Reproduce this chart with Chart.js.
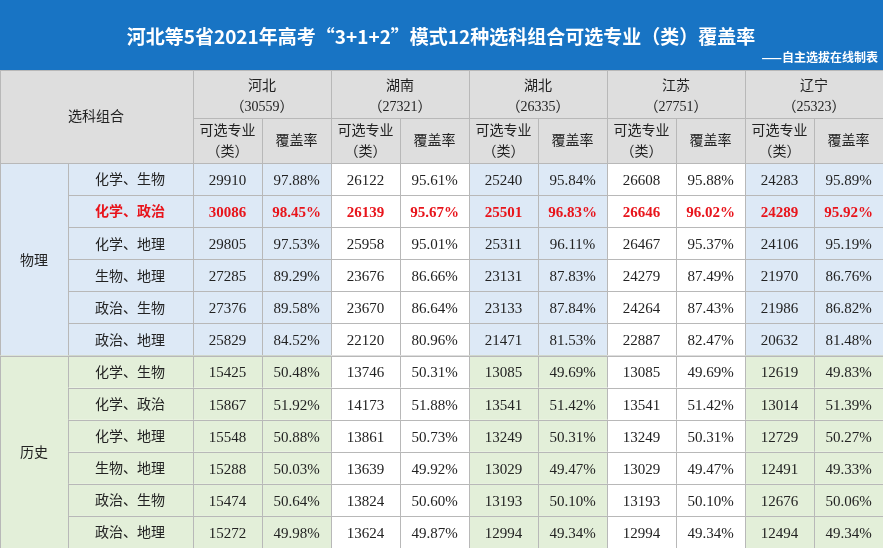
<!DOCTYPE html>
<html><head><meta charset="utf-8">
<script src="https://cdn.jsdelivr.net/npm/chart.js@4"></script>
<style>html,body{margin:0;padding:0;background:#fff}#wrap{width:883px;height:548px}</style>
</head><body><div id="wrap"><canvas id="c" width="883" height="548"></canvas></div>
<script>
const titleText = "河北等5省2021年高考“3+1+2”模式12种选科组合可选专业（类）覆盖率";
const subtitleText = "——自主选拔在线制表";
const provinces = ["河北","湖南","湖北","江苏","辽宁"];
const provinceTotals = [30559,27321,26335,27751,25323];
const groups = ["物理","历史"];
const combos = ["化学、生物","化学、政治","化学、地理","生物、地理","政治、生物","政治、地理"];
const highlightRow = 1;
const countsHebei = [29910,30086,29805,27285,27376,25829,15425,15867,15548,15288,15474,15272];
const ratesHebei = [97.88,98.45,97.53,89.29,89.58,84.52,50.48,51.92,50.88,50.03,50.64,49.98];
const countsHunan = [26122,26139,25958,23676,23670,22120,13746,14173,13861,13639,13824,13624];
const ratesHunan = [95.61,95.67,95.01,86.66,86.64,80.96,50.31,51.88,50.73,49.92,50.60,49.87];
const countsHubei = [25240,25501,25311,23131,23133,21471,13085,13541,13249,13029,13193,12994];
const ratesHubei = [95.84,96.83,96.11,87.83,87.84,81.53,49.69,51.42,50.31,49.47,50.10,49.34];
const countsJiangsu = [26608,26646,26467,24279,24264,22887,13085,13541,13249,13029,13193,12994];
const ratesJiangsu = [95.88,96.02,95.37,87.49,87.43,82.47,49.69,51.42,50.31,49.47,50.10,49.34];
const countsLiaoning = [24283,24289,24106,21970,21986,20632,12619,13014,12729,12491,12676,12494];
const ratesLiaoning = [95.89,95.92,95.19,86.76,86.82,81.48,49.83,51.39,50.27,49.33,50.06,49.34];
const counts = [countsHebei,countsHunan,countsHubei,countsJiangsu,countsLiaoning];
const rates = [ratesHebei,ratesHunan,ratesHubei,ratesJiangsu,ratesLiaoning];

const colX = [0,68,193,262,331,400,469,538,607,676,745,814,883];
const titleBottom = 70, head1Bottom = 118, head2Bottom = 163, rowH = (548-163)/12;
const CJK = '"Noto Sans CJK SC", sans-serif';
const NUM = '"Liberation Serif", "Noto Sans CJK SC", serif';

const tablePlugin = {
  id:'table',
  afterDraw(chart){
    const ctx = chart.ctx, sx = chart.scales.x, sy = chart.scales.y;
    const X = v=>sx.getPixelForValue(v), Y = v=>sy.getPixelForValue(v);
    function rect(x0,y0,x1,y1,fill){ctx.fillStyle=fill;ctx.fillRect(X(x0),Y(y0),X(x1)-X(x0),Y(y1)-Y(y0));}
    function border(x0,y0,x1,y1){ctx.strokeStyle='#b8b8b8';ctx.lineWidth=1;ctx.strokeRect(Math.round(X(x0))+0.5,Math.round(Y(y0))+0.5,X(x1)-X(x0),Y(y1)-Y(y0));}
    function text(t,x,y,font,color,align){ctx.font=font;ctx.fillStyle=color;ctx.textAlign=align||'center';ctx.textBaseline='middle';ctx.fillText(t,X(x),Y(y));}
    ctx.save();
    rect(0,0,883,titleBottom,'#1874c4');
    text(titleText,441,37,'bold 19px '+CJK,'#fff');
    text(subtitleText,878,57,'bold 12px '+CJK,'#fff','right');
    rect(0,titleBottom,883,head2Bottom,'#dedede');
    border(0,titleBottom,193,head2Bottom);
    text('选科组合',96,116,'14px '+CJK,'#222');
    provinces.forEach((p,i)=>{
      const a=colX[2+2*i], m=colX[3+2*i], b=colX[4+2*i];
      border(a,titleBottom,b,head1Bottom);
      text(p,(a+b)/2,85,'14px '+CJK,'#222');
      text('（'+provinceTotals[i]+'）',(a+b)/2,107,'14px '+NUM,'#222');
      border(a,head1Bottom,m,head2Bottom);border(m,head1Bottom,b,head2Bottom);
      text('可选专业',(a+m)/2,130,'14px '+CJK,'#222');
      text('（类）',(a+m)/2,151,'14px '+CJK,'#222');
      text('覆盖率',(m+b)/2,140,'14px '+CJK,'#222');
    });
    const gFill=['#dde9f6','#e3efd9'];
    groups.forEach((g,gi)=>{
      const y0=head2Bottom+gi*6*rowH, y1=y0+6*rowH;
      rect(0,y0,68,y1,gFill[gi]);border(0,y0,68,y1);
      text(g,34,(y0+y1)/2,'14px '+CJK,'#222');
      combos.forEach((c,ci)=>{
        const r=gi*6+ci, ry0=head2Bottom+r*rowH, ry1=ry0+rowH, cy=(ry0+ry1)/2;
        const hl = r===highlightRow;
        const col = hl?'#e8141b':'#222', w = hl?'bold ':'';
        rect(68,ry0,193,ry1,gFill[gi]);border(68,ry0,193,ry1);
        text(c,130,cy,w+'14px '+CJK,col);
        provinces.forEach((p,pi)=>{
          const a=colX[2+2*pi], m=colX[3+2*pi], b=colX[4+2*pi];
          const f = pi%2===0?gFill[gi]:'#ffffff';
          rect(a,ry0,b,ry1,f);border(a,ry0,m,ry1);border(m,ry0,b,ry1);
          text(String(counts[pi][r]),(a+m)/2,cy+2,w+'15px '+NUM,col);
          text(rates[pi][r].toFixed(2)+'%',(m+b)/2,cy+2,w+'15px '+NUM,col);
        });
      });
    });
    ctx.restore();
  }
};

new Chart(document.getElementById('c'),{
  type:'scatter',
  data:{datasets:[{data:[],pointRadius:0}]},
  options:{responsive:false,animation:false,events:[],
    layout:{padding:0},
    plugins:{legend:{display:false},tooltip:{enabled:false},title:{display:false}},
    scales:{
      x:{type:'linear',min:0,max:883,display:false},
      y:{type:'linear',min:0,max:548,reverse:true,display:false}
    }},
  plugins:[tablePlugin]
});
</script></body></html>
